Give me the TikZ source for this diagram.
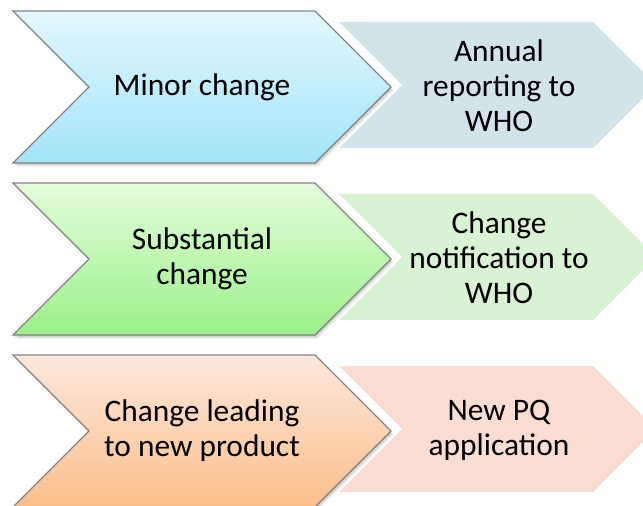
\documentclass[tikz,border=0pt]{standalone}
\usepackage{fontspec}
\setmainfont{Carlito}
\definecolor{blueT}{HTML}{E3F8FE}
\definecolor{blueB}{HTML}{A2E4FA}
\definecolor{greenT}{HTML}{E3FDDB}
\definecolor{greenB}{HTML}{9BF189}
\definecolor{orangeT}{HTML}{FDE8DB}
\definecolor{orangeB}{HTML}{FBBE8B}
\definecolor{blueR}{HTML}{D3E3EA}
\definecolor{greenR}{HTML}{DAF2D4}
\definecolor{orangeR}{HTML}{FADDD2}
\definecolor{rimgray}{HTML}{858585}
\begin{document}
\begin{tikzpicture}[x=1bp,y=-1bp,
  lbl/.style={font=\fontsize{31.5}{35}\selectfont, align=center, text=black, inner sep=0pt},
  rim/.style={draw=rimgray, line width=1.1bp, line join=miter},
  flat/.style={fill=#1, draw=none}]
\useasboundingbox (0,0) rectangle (643,506);
\clip (0,0) rectangle (643,506);
\foreach \dy/\id/\ctop/\cbot/\cright/\ltext/\rtext in {
    0/minor/blueT/blueB/blueR/{Minor change}/{Annual\\reporting to\\WHO},
    172/subst/greenT/greenB/greenR/{Substantial\\change}/{Change\\notification to\\WHO},
    344/newprod/orangeT/orangeB/orangeR/{Change leading\\to new product}/{New PQ\\application}}{
  % outcome chevron, notched around the tip of the change chevron
  \path[flat=\cright] (339,22+\dy) -- (593,22+\dy) -- (656,85+\dy)
     -- (593,148+\dy) -- (339,148+\dy) -- (402,85+\dy) -- cycle;
  % soft shadow of the change chevron
  \foreach \s/\o in {1/0.10,2/0.08,3/0.06,4/0.04}{
    \fill[black, opacity=\o, shift={(0.7*\s,\s)}]
      (13,11+\dy) -- (315,11+\dy) -- (391,87+\dy) -- (315,163+\dy)
      -- (13,163+\dy) -- (89,87+\dy) -- cycle;
  }
  % change chevron with vertical gradient
  \path[rim, top color=\ctop, bottom color=\cbot]
      (13,11+\dy) -- (315,11+\dy) -- (391,87+\dy) -- (315,163+\dy)
      -- (13,163+\dy) -- (89,87+\dy) -- cycle;
  \node[lbl] (\id-l) at (202,87+\dy) {\ltext};
  \node[lbl] (\id-r) at (499,86+\dy) {\rtext};
}
\end{tikzpicture}
\end{document}
